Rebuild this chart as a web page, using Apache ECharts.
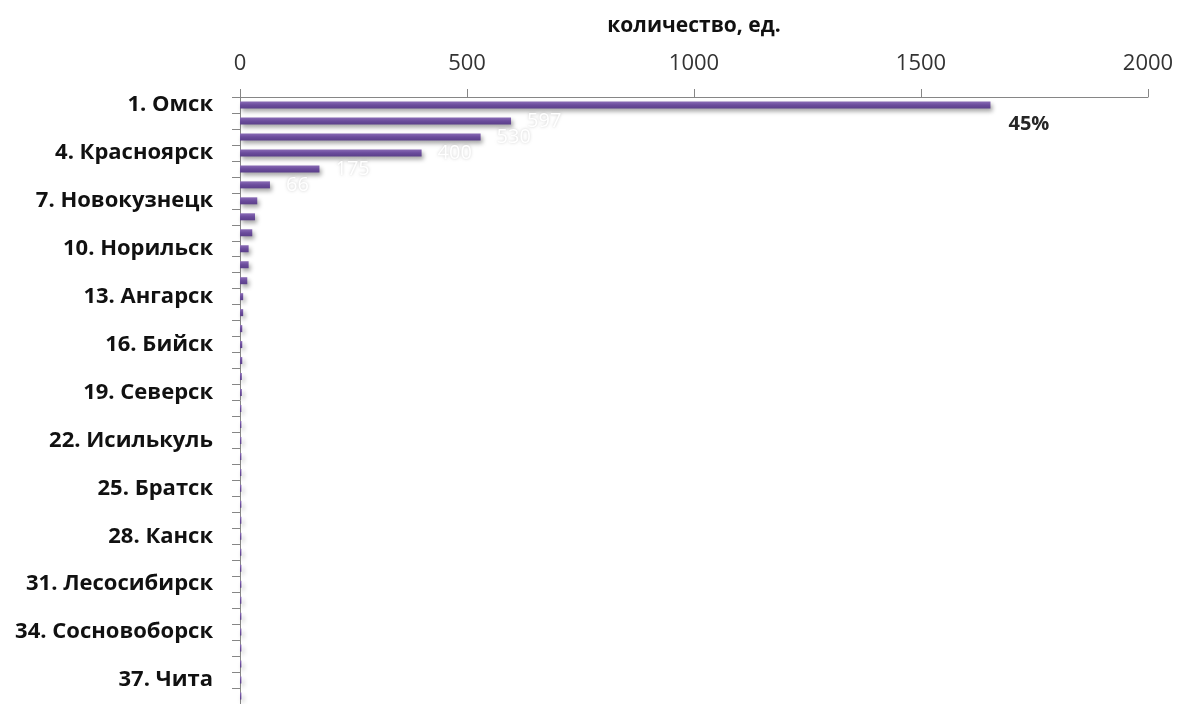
<!DOCTYPE html>
<html>
<head>
<meta charset="utf-8">
<script src="https://cdn.jsdelivr.net/npm/echarts@6/dist/echarts.min.js"></script>
<style>
html,body{margin:0;padding:0;background:#fff;}
#chart{width:1181px;height:704px;}
</style>
</head>
<body>
<div id="chart"></div>
<script>
const categories = [
  '1. Омск','2. Новосибирск','3. Барнаул','4. Красноярск','5. Томск','6. Иркутск',
  '7. Новокузнецк','8. Кемерово','9. Абакан','10. Норильск','11. Улан-Удэ','12. Прокопьевск',
  '13. Ангарск','14. Рубцовск','15. Ачинск','16. Бийск','17. Бердск','18. Тара',
  '19. Северск','20. Юрга','21. Искитим','22. Исилькуль','23. Калачинск','24. Минусинск',
  '25. Братск','26. Усть-Илимск','27. Черногорск','28. Канск','29. Назарово','30. Железногорск',
  '31. Лесосибирск','32. Шарыпово','33. Зеленогорск','34. Сосновоборск','35. Дивногорск','36. Кызыл',
  '37. Чита','38. Тулун'
];
const values = [
  1653, 597, 530, 400, 175, 66,
  38, 33, 27, 19, 19, 16,
  7, 7, 5, 5, 5, 4,
  4, 3, 3, 3, 3, 3,
  3, 3, 3, 3, 3, 3,
  3, 3, 3, 3, 3, 3,
  3, 3
];
const xTicks = [0, 500, 1000, 1500, 2000];
const xAxisTitle = 'количество, ед.';
const labeledCount = 6;

const total = values.reduce((a, b) => a + b, 0);
const seriesData = values.map((v, i) => {
  const item = { value: v };
  if (i === 0) {
    item.label = {
      show: true,
      formatter: Math.round(v / total * 100) + '%',
      color: '#262626',
      fontWeight: 'bold',
      fontSize: 20,
      fontFamily: 'Open Sans',
      textShadowBlur: 0,
      textShadowColor: 'transparent',
      offset: [2, 19]
    };
  } else if (i < labeledCount) {
    item.label = { show: true };
  }
  return item;
});

const chart = echarts.init(document.getElementById('chart'), null, { renderer: 'canvas' });
chart.setOption({
  backgroundColor: '#ffffff',
  animation: false,
  grid: { left: 240, right: 33, top: 97, bottom: -3, containLabel: false },
  xAxis: {
    type: 'value',
    position: 'top',
    min: xTicks[0],
    max: xTicks[xTicks.length - 1],
    interval: xTicks[1] - xTicks[0],
    name: xAxisTitle,
    nameLocation: 'middle',
    nameGap: 60,
    nameTextStyle: { fontFamily: 'Open Sans', fontWeight: 'bold', fontSize: 21, color: '#111' },
    axisLine: { show: true, lineStyle: { color: '#868686', width: 1 } },
    axisTick: { show: true, length: 8, lineStyle: { color: '#868686' } },
    axisLabel: { fontFamily: 'Open Sans', fontSize: 22, color: '#333', margin: 22,
      formatter: v => String(v) },
    splitLine: { show: false }
  },
  yAxis: {
    type: 'category',
    inverse: true,
    data: categories,
    axisLine: { show: true, lineStyle: { color: '#868686', width: 1 } },
    axisTick: { show: true, interval: 0, length: 8, alignWithLabel: false, lineStyle: { color: '#868686' } },
    axisLabel: { interval: 2, fontFamily: 'Open Sans', fontWeight: 'bold', fontSize: 22, color: '#111', margin: 27 },
    splitLine: { show: false }
  },
  series: [{
    type: 'bar',
    data: seriesData,
    barWidth: 7,
    itemStyle: {
      color: new echarts.graphic.LinearGradient(0, 0, 0, 1, [
        { offset: 0, color: '#8a6cb6' },
        { offset: 0.5, color: '#6b4c9c' },
        { offset: 1, color: '#5b3f8a' }
      ]),
      shadowColor: 'rgba(0,0,0,0.35)',
      shadowBlur: 4,
      shadowOffsetX: 2,
      shadowOffsetY: 3
    },
    label: {
      show: false,
      position: 'right',
      distance: 16,
      color: '#ffffff',
      fontFamily: 'Open Sans',
      fontSize: 20,
      textShadowColor: 'rgba(0,0,0,0.2)',
      textShadowBlur: 3
    }
  }]
});
</script>
</body>
</html>
